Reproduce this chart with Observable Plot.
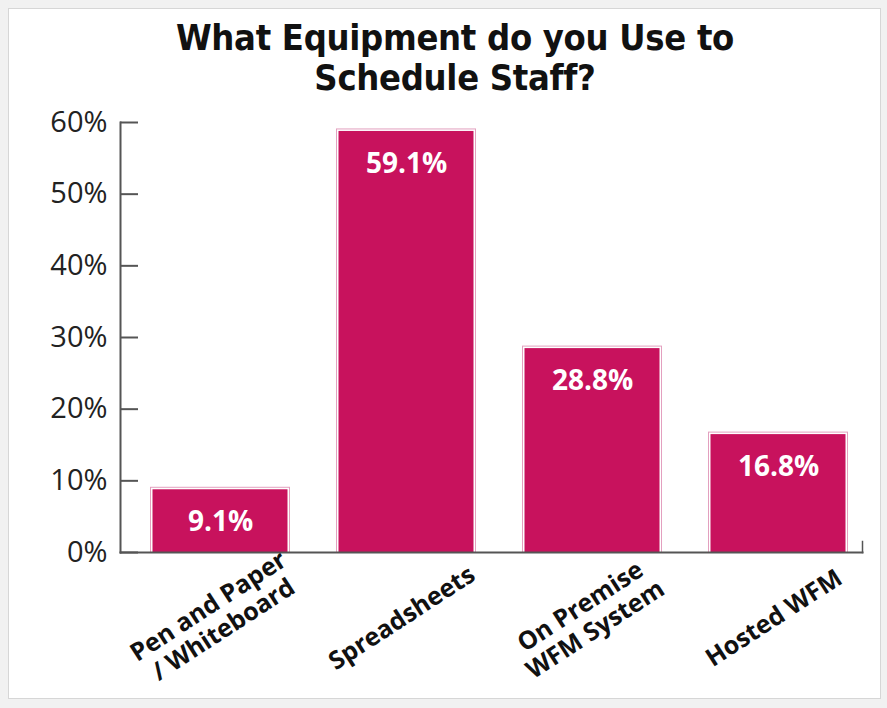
<!DOCTYPE html>
<html><head><meta charset="utf-8">
<script src="https://cdn.jsdelivr.net/npm/d3@7"></script>
<script src="https://cdn.jsdelivr.net/npm/@observablehq/plot@0.6"></script>
<style>
body{margin:0;background:#f1f1f1;width:887px;height:708px;overflow:hidden;position:relative}
#box{position:absolute;left:8px;top:8px;width:871px;height:689px;background:#fff;border:1px solid #d6d6d6}
#title{position:absolute;left:0;width:910px;top:18px;text-align:center;font-family:"DejaVu Sans Condensed";font-weight:bold;font-size:36px;line-height:40px;color:#111;letter-spacing:-0.3px}
#chart{position:absolute;left:0;top:100px}
</style></head><body>
<div id="box"></div>
<div id="title">What Equipment do you Use to<br>Schedule Staff?</div>
<div id="chart"></div>
<script>
const categories = ["Pen and Paper\n/ Whiteboard", "Spreadsheets", "On Premise\nWFM System", "Hosted WFM"];
const values = [9.1, 59.1, 28.8, 16.8];
const valueLabels = ["9.1%", "59.1%", "28.8%", "16.8%"];
const yTicks = [0, 10, 20, 30, 40, 50, 60];
const yTickLabels = ["0%", "10%", "20%", "30%", "40%", "50%", "60%"];

const data = categories.map((c, i) => ({category: c, value: values[i], label: valueLabels[i]}));

const W = 887, H = 600, mL = 120, mR = 25, mT = 22, mB = 148;
const plotW = W - mL - mR, plotH = H - mT - mB;

const chart = Plot.plot({
  width: W, height: H,
  marginLeft: mL, marginRight: mR, marginTop: mT, marginBottom: mB,
  style: {background: "transparent", fontFamily: "Open Sans", overflow: "visible"},
  x: {domain: categories, paddingInner: 0.25, paddingOuter: 0.11, align: 0.68, axis: null},
  y: {domain: [0, 60], axis: null},
  marks: [
    Plot.barY(data, {x: "category", y: "value", fill: "#e3a0bf"}),
    Plot.barY(data, {x: "category", y: "value", fill: "#ffffff", insetLeft: 1, insetRight: 1, insetTop: 1}),
    Plot.barY(data, {x: "category", y: "value", fill: "#c8125d", insetLeft: 2.5, insetRight: 2.5, insetTop: 2.5}),
    Plot.text(data, {x: "category", y: "value", text: "label", dy: 35, fill: "#ffffff", fontSize: 28, fontWeight: "bold", fontFamily: "Open Sans"}),
    Plot.text(yTicks, {x: null, y: d => d, frameAnchor: "left", dx: -13, textAnchor: "end", text: (d, i) => yTickLabels[i], fontSize: 29, fill: "#222", fontFamily: "Open Sans"}),
    Plot.tickY(yTicks, {y: d => d, stroke: "#555", strokeWidth: 2, insetRight: plotW - 18}),
    Plot.frame({anchor: "left", stroke: "#555", strokeWidth: 2}),
    Plot.frame({anchor: "bottom", stroke: "#555", strokeWidth: 2}),
    Plot.frame({anchor: "right", stroke: "#555", strokeWidth: 1.5, insetTop: plotH - 11}),
    Plot.text(data, {x: "category", frameAnchor: "bottom", dx: -5, dy: 65, rotate: -33, text: "category", textAnchor: "middle", lineAnchor: "middle", lineHeight: 1.1, fontSize: 25, fontWeight: "bold", fill: "#111", fontFamily: "Open Sans"})
  ]
});
document.getElementById("chart").appendChild(chart);
</script>
</body></html>
